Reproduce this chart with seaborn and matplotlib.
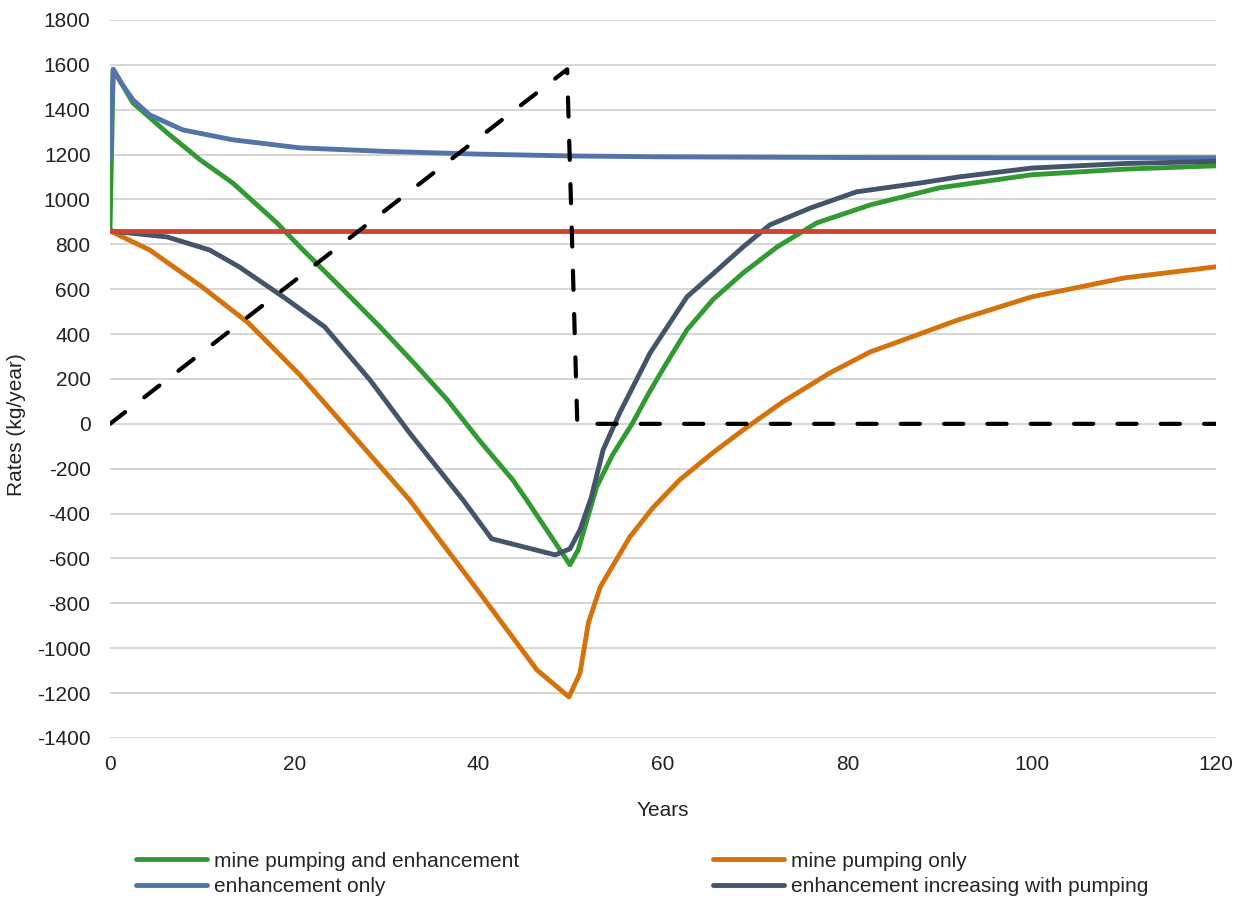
import matplotlib
matplotlib.use("Agg")
import matplotlib.pyplot as plt
import pandas as pd
import seaborn as sns

# values (years, kg/year)
green_t = [0, 0.35, 2.5, 6.2, 9.8, 13.3, 18.1, 20.6, 25, 29.3, 33, 36.6, 40, 43.7, 45.2,
           47.5, 49.9, 50.8, 52.8, 54.5, 56.7, 58.5, 60.4, 62.6, 65.4, 68.7, 72.4, 76.7,
           82.5, 90, 100, 110, 120]
green_v = [860, 1580, 1430, 1297, 1176, 1074, 896, 789, 610, 432, 270, 107, -70, -250, -339,
           -480, -628, -561, -281, -140, 4, 140, 272, 419, 553, 673, 789, 896,
           976, 1052, 1110, 1135, 1150]

blue_t = [0, 0.35, 1.2, 2.5, 4.3, 7.9, 13.3, 20.6, 30, 40, 50, 60, 80, 100, 120]
blue_v = [1180, 1580, 1520, 1444, 1377, 1310, 1266, 1230, 1214, 1202, 1194, 1190, 1187, 1186, 1186]

orange_t = [0, 4.3, 10, 15, 20.6, 26.8, 32.5, 40.1, 46.3, 49.8, 51, 51.9, 53.2, 56.4, 58.9,
            61.8, 65.4, 68.7, 73, 78.1, 82.5, 84.6, 92, 100, 110, 120]
orange_v = [860, 775, 610, 450, 218, -71, -339, -753, -1096, -1217, -1110, -887, -726, -504, -374,
            -250, -129, -27, 98, 227, 321, 352, 463, 566, 650, 700]

gray_t = [0, 6.2, 10.8, 14, 19, 23.3, 28.2, 32.5, 38.3, 41.4, 48.3, 49.9, 51, 52.2, 53.5,
          55.3, 58.6, 62.6, 65.9, 68.7, 71.6, 76, 81, 88, 92, 100, 110, 120]
gray_v = [860, 833, 775, 700, 560, 432, 196, -40, -339, -512, -584, -557, -472, -330, -116,
          49, 316, 566, 686, 789, 887, 962, 1034, 1074, 1100, 1140, 1160, 1170]

red_t = [0, 120]
red_v = [860, 860]

dash_t = [0, 49.6, 50.7, 120]
dash_v = [0, 1580, 0, 0]

series = [
    ("mine pumping and enhancement", green_t, green_v, "#339933"),
    ("mine pumping only", orange_t, orange_v, "#D5720C"),
    ("enhancement only", blue_t, blue_v, "#5473A8"),
    ("enhancement increasing with pumping", gray_t, gray_v, "#44546A"),
]

sns.set_theme(style="white")
plt.rcParams["font.family"] = ["Liberation Sans", "DejaVu Sans"]
plt.rcParams["axes.unicode_minus"] = False

FS = 15
TXT = "#222222"

fig = plt.figure(figsize=(12.4, 8.99), dpi=100)
ax = fig.add_axes([0.0887, 0.1791, 0.892, 0.7987])

lines = {}
for name, t, v, col in series:
    df = pd.DataFrame({"t": t, "v": v})
    sns.lineplot(data=df, x="t", y="v", ax=ax, color=col, lw=3.5, estimator=None,
                 sort=False, legend=False)
    lines[name] = ax.lines[-1]

sns.lineplot(x=red_t, y=red_v, ax=ax, color="#D04330", lw=3.5, estimator=None, legend=False)
sns.lineplot(x=dash_t, y=dash_v, ax=ax, color="black", lw=3.0, estimator=None, sort=False,
             legend=False)
ax.lines[-1].set_dashes([4.6, 5.8])
ax.lines[-1].set_dash_capstyle("round")

ax.set_xlim(0, 120)
ax.set_ylim(-1400, 1800)
ax.set_xticks(range(0, 121, 20))
ax.set_yticks(range(-1400, 1801, 200))
ax.yaxis.grid(True, color="#d0d0d0", lw=1.2)
ax.set_axisbelow(True)
for s in ax.spines.values():
    s.set_visible(False)
ax.tick_params(axis="both", labelsize=FS, colors=TXT, length=0)
ax.tick_params(axis="x", pad=12)
ax.tick_params(axis="y", pad=14)
ax.set_xlabel("Years", fontsize=FS, color=TXT, labelpad=20)
ax.set_ylabel("Rates (kg/year)", fontsize=FS, color=TXT)
ax.yaxis.set_label_coords(-0.0755, 0.436)

leg_kw = dict(frameon=False, fontsize=FS, handlelength=3.4, handletextpad=0.33,
              labelspacing=0.3, loc="upper left", borderaxespad=0)
names = [s[0] for s in series]
fig.legend([lines[names[0]], lines[names[2]]], [names[0], names[2]],
           bbox_to_anchor=(0.103, 0.062), **leg_kw)
fig.legend([lines[names[1]], lines[names[3]]], [names[1], names[3]],
           bbox_to_anchor=(0.5685, 0.062), **leg_kw)

fig.savefig("out.png", dpi=100)
